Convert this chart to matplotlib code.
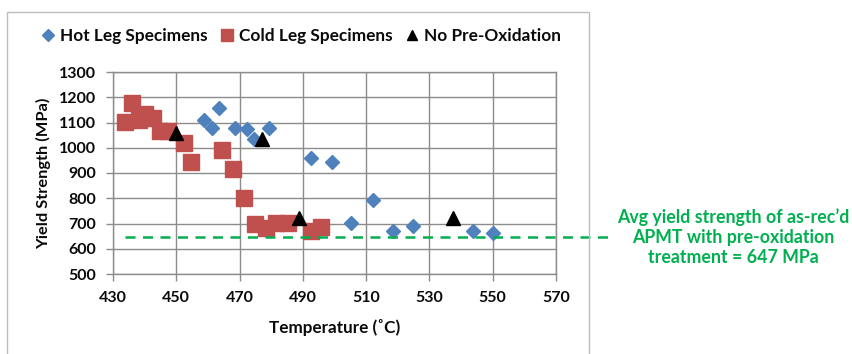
import matplotlib
matplotlib.use("Agg")
import matplotlib.pyplot as plt
from matplotlib.patches import Rectangle

plt.rcParams['font.family'] = ['Lato', 'DejaVu Sans']
plt.rcParams['font.weight'] = 'bold'

# Hot leg specimens: temperature (°C), yield strength (MPa)
hot_temp = [458.8, 461.2, 463.6, 468.6, 472.3, 474.6, 479.4, 492.5, 499.1,
            505.2, 512.1, 518.6, 524.9, 543.9, 550.0]
hot_ys = [1110, 1079, 1157, 1079, 1073, 1035, 1079, 960, 944,
          703, 793, 672, 690, 672, 661]

# Cold leg specimens
cold_temp = [433.8, 435.9, 438.3, 440.1, 442.7, 444.9, 447.5, 452.4, 454.8,
             464.3, 468.0, 471.4, 474.9, 478.2, 481.6, 485.4, 492.5, 495.6]
cold_ys = [1101, 1178, 1110, 1132, 1117, 1068, 1068, 1020, 945,
           990, 917, 800, 698, 683, 703, 703, 670, 685]

# Specimens without pre-oxidation
noox_temp = [449.9, 477.0, 488.8, 537.6]
noox_ys = [1060, 1033, 720, 720]

avg_ys = 647
avg_label = "Avg yield strength of as-rec\u2019d\nAPMT with pre-oxidation\ntreatment = 647 MPa"

x_ticks = [430, 450, 470, 490, 510, 530, 550, 570]
y_ticks = [500, 600, 700, 800, 900, 1000, 1100, 1200, 1300]

W, H = 853, 354
fig = plt.figure(figsize=(W / 100, H / 100), dpi=100)
ax = fig.add_axes([113 / W, 1 - 274 / H, (556 - 113) / W, (274 - 72) / H])

blue = '#4F81BD'
red = '#C0504D'
green = '#00B050'
grid_c = '#8C8C8C'
txt_c = '#0a0a0a'

# outer chart frame
fig.patches.append(Rectangle((7 / W, -0.01), (589 - 7) / W, 1 - 12 / H + 0.01,
                             transform=fig.transFigure, fill=False,
                             edgecolor='#BDBDBD', linewidth=1.0, zorder=0))

h1, = ax.plot(hot_temp, hot_ys, linestyle='none', marker='D', ms=7.6,
              color=blue, mec=blue, label='Hot Leg Specimens', zorder=3)
h2, = ax.plot(cold_temp, cold_ys, linestyle='none', marker='s', ms=11,
              color=red, mec=red, label='Cold Leg Specimens', zorder=4)
h3, = ax.plot(noox_temp, noox_ys, linestyle='none', marker='^', ms=10.5,
              color='black', mec='black', label='No Pre-Oxidation', zorder=5)

# average yield strength reference line, running out past the axes
ax.plot([433.8, 588.5], [avg_ys, avg_ys], color=green, lw=1.8,
        dashes=(4, 3), clip_on=False, zorder=6)

ax.set_xlim(430, 570)
ax.set_ylim(500, 1300)
ax.set_xticks(x_ticks)
ax.set_yticks(y_ticks)
ax.grid(True, color=grid_c, lw=1.0)
ax.set_axisbelow(True)
for s in ax.spines.values():
    s.set_color(grid_c)
    s.set_linewidth(1.0)
ax.tick_params(axis='both', direction='out', length=5, width=1.0,
               color=grid_c, labelsize=11.5, labelcolor=txt_c)
ax.tick_params(axis='y', pad=7)
ax.tick_params(axis='x', pad=7)
for lab in ax.get_xticklabels() + ax.get_yticklabels():
    lab.set_fontweight('bold')

ax.set_xlabel('Temperature (\u02daC)', fontsize=12.3, fontweight='bold',
              color=txt_c, labelpad=10)
ax.set_ylabel('Yield Strength (MPa)', fontsize=11.8, fontweight='bold',
              color=txt_c, labelpad=6)

fig.legend(handles=[h1, h2, h3], loc='center', ncol=3, frameon=False,
           bbox_to_anchor=(301 / W, 1 - 36 / H),
           prop={'size': 12.4, 'weight': 'bold'}, labelcolor=txt_c,
           handlelength=0.8, handletextpad=0.3, columnspacing=0.7,
           markerscale=0.75)

fig.text(733 / W, 1 - 237 / H, avg_label, color=green, fontsize=12.8,
         fontweight='bold', ha='center', va='center', linespacing=1.2)

fig.savefig('out.png', dpi=100)
